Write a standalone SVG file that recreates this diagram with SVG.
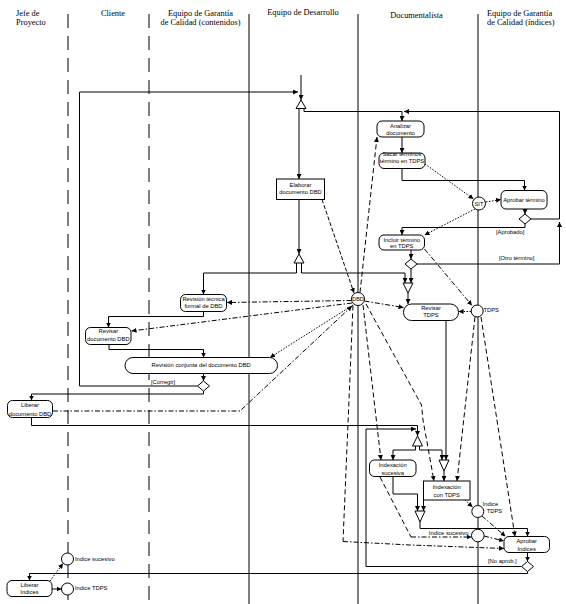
<svg xmlns="http://www.w3.org/2000/svg" width="566" height="604" viewBox="0 0 566 604">
<style>
.bg{fill:#fff}
.lane{stroke:#000;stroke-width:1;fill:none}
.ld{stroke-dasharray:14 8}
.f{fill:none;stroke:#000;stroke-width:1}
.a{marker-end:url(#ah)}
.dsh{stroke-dasharray:5 3}
.dsf{stroke-dasharray:4 2}
.dot{stroke-dasharray:1.5 1.5}
.dd{stroke-dasharray:5 2 1.5 2}
.n{fill:#fff;stroke:#000;stroke-width:1}
.h{font-family:"Liberation Serif","Times New Roman",serif;font-size:8.4px;fill:#000}
.t{font-family:"Liberation Sans",Arial,sans-serif;font-size:5.8px;fill:#000;text-anchor:middle}
.l{font-family:"Liberation Sans",Arial,sans-serif;font-size:5.8px;fill:#000}
</style>
<defs>
<marker id="ah" viewBox="0 0 5 5" refX="5" refY="2.5" markerWidth="5" markerHeight="5" markerUnits="userSpaceOnUse" orient="auto"><path d="M0,0 L5,2.5 L0,5 z" fill="#000" stroke="none"/></marker>
</defs>
<rect class="bg" x="0" y="0" width="566" height="604"/>

<g id="lanes">
<line class="lane ld" x1="68" y1="14" x2="68" y2="604"/>
<line class="lane ld" x1="149" y1="14" x2="149" y2="604"/>
<line class="lane" x1="249" y1="14" x2="249" y2="604"/>
<line class="lane" x1="358" y1="14" x2="358" y2="604"/>
<line class="lane" x1="478" y1="14" x2="478" y2="604"/>
<text class="h" x="16" y="16">Jefe de</text>
<text class="h" x="16" y="25">Proyecto</text>
<text class="h" x="113" y="16" text-anchor="middle">Cliente</text>
<text class="h" x="200.5" y="15.5" text-anchor="middle">Equipo de Garantía</text>
<text class="h" x="200.5" y="25" text-anchor="middle">de Calidad (contenidos)</text>
<text class="h" x="303" y="15" text-anchor="middle">Equipo de Desarrollo</text>
<text class="h" x="416.5" y="18" text-anchor="middle">Documentalista</text>
<text class="h" x="487" y="15.5">Equipo de Garantía</text>
<text class="h" x="487" y="25">de Calidad (índices)</text>
</g>

<g id="connectors">
<!-- control flows -->
<path class="f a" d="M301,75 V100"/>
<path class="f a" d="M197.5,386 H79.5 V92 H298"/>
<path class="f a" d="M299,108.5 V179"/>
<path class="f" d="M304,108.5 V111.5 H402"/>
<path class="f a" d="M402,111.5 V121"/>
<path class="f a" d="M417,264 H559.5 V222"/>
<path class="f a" d="M531,219 H559.5 V111.5 H404"/>
<path class="f a" d="M402,137 V153"/>
<path class="f a" d="M402,168.5 V180.5 H524.5 V190.5"/>
<path class="f a" d="M525,209 V214"/>
<path class="f a" d="M525,224 V227.5 H402 V235"/>
<path class="f a" d="M411,250 V259"/>
<path class="f a" d="M411,269 V283"/>
<path class="f a" d="M299,199.5 V254"/>
<path class="f a" d="M296.5,263 V273 H203.5 V294.5"/>
<path class="f a" d="M301.5,263 V273 H405 V283"/>
<path class="f a" d="M408,293 V304"/>
<path class="f a" d="M203.5,311.5 V316.5 H108.5 V327.5"/>
<path class="f a" d="M109,344.5 V349.5 H203.5 V357.5"/>
<path class="f a" d="M203.5,373.5 V381"/>
<path class="f a" d="M203.5,391 V394 H31.5 V400.5"/>
<path class="f a" d="M31.5,417.5 V425.5 H417.5 V436"/>
<path class="f a" d="M521.5,566.5 H366 V429 H416"/>
<path class="f a" d="M415.5,446 V450 H393 V460"/>
<path class="f a" d="M419.5,446 V450 H442 V460"/>
<path class="f a" d="M446,320.5 V460"/>
<path class="f a" d="M444,471 V481"/>
<path class="f a" d="M393,476.5 V494 H417.5 V511"/>
<path class="f a" d="M423.5,500 V511"/>
<path class="f a" d="M420,522 V528.5 H527.5 V536.5"/>
<path class="f a" d="M527.5,552.5 V561.5"/>
<path class="f a" d="M527.5,571.5 V573.5 H29.5 V580.5"/>
<path class="f a" d="M51.5,589 H61.5"/>
<!-- object flows -->
<path class="f a dsf" d="M322,199.5 L354,293"/>
<path class="f a dsh" d="M360,292.5 L377,137"/>
<path class="f a dot" d="M425,164 L473.5,199"/>
<path class="f a dot" d="M486,202 L501,199.5"/>
<path class="f a dot" d="M475,209 L424.5,235"/>
<path class="f a dd" d="M424.5,249 L472,305.5"/>
<path class="f a dd" d="M364.5,301 L403.5,307.5"/>
<path class="f a dot" d="M471,311.5 L458.5,311.5"/>
<path class="f a dd" d="M351.5,300.5 L227,302.5"/>
<path class="f a dd" d="M352,303 L131.5,331"/>
<path class="f a dot" d="M353,305 L270,357.5"/>
<path class="f a dd" d="M53,411 H240 L352,306"/>
<path class="f dsh" d="M353,305.5 L343,541.5"/>
<path class="f a dd" d="M343,541.5 L410,545 L504,548.5"/>
<path class="f a dsh" d="M363,305 L381,460"/>
<path class="f a dsh" d="M366,304 L421.5,405 L423,420 L434,481"/>
<path class="f a dsh" d="M475,317 L457,481"/>
<path class="f a dsh" d="M481,317 L515,536.5"/>
<path class="f a dot" d="M465,500 L472.5,507"/>
<path class="f dsh" d="M380,477 L411,537"/>
<path class="f a dd" d="M411,537 H471.5"/>
<path class="f a dd" d="M482,516 L505.5,536.5"/>
<path class="f a dd" d="M484,536 L504,541"/>
<path class="f a dot" d="M50,581 L63,563.5"/>
</g>

<g id="fork1"><polygon class="n" points="301,100 296,108.5 306,108.5"/></g>
<g id="fork2"><polygon class="n" points="299,254 294,263 304,263"/></g>
<g id="join1"><polygon class="n" points="403,283 413,283 408,293"/></g>
<g id="fork3"><polygon class="n" points="417.5,436 412.5,446 422.5,446"/></g>
<g id="join2"><polygon class="n" points="439,460 449,460 444,471"/></g>
<g id="join3"><polygon class="n" points="415,511 425,511 420,522"/></g>

<g id="d-aprobado"><polygon class="n" points="525,214 531,219 525,224 519,219"/><text class="l" x="496" y="233.5">[Aprobado]</text></g>
<g id="d-otro"><polygon class="n" points="411,259 417,264 411,269 405,264"/><text class="l" x="499" y="260">[Otro término]</text></g>
<g id="d-corregir"><polygon class="n" points="203.5,381 209.5,386 203.5,391 197.5,386"/><text class="l" x="151" y="383.5">[Corregir]</text></g>
<g id="d-noaprob"><polygon class="n" points="527.5,561.5 533.5,566.5 527.5,571.5 521.5,566.5"/><text class="l" x="488" y="563">[No aprob.]</text></g>

<g id="analizar"><rect class="n" x="377" y="121" width="47" height="16" rx="5"/><text class="t" x="400.5" y="128">Analizar</text><text class="t" x="400.5" y="134.5">documento</text></g>
<g id="sacar"><rect class="n" x="379" y="153" width="46" height="15.5" rx="5"/><text class="t" x="402" y="155.5">Sacar términos</text><text class="t" x="402" y="163">término en TDPS</text></g>
<g id="aprobar-termino"><rect class="n" x="501" y="190.5" width="46" height="18.5" rx="5"/><text class="t" x="524" y="202">Aprobar término</text></g>
<g id="incluir"><rect class="n" x="379" y="235" width="45.5" height="15" rx="5"/><text class="t" x="401.7" y="241.5">Incluir término</text><text class="t" x="401.7" y="248">en TDPS</text></g>
<g id="elaborar"><rect class="n" x="276.5" y="179" width="48" height="20.5"/><text class="t" x="300.5" y="186.5">Elaborar</text><text class="t" x="300.5" y="194">documento DBD</text></g>
<g id="revisar-tdps"><rect class="n" x="403.5" y="304" width="55" height="16.5" rx="8"/><text class="t" x="431" y="309.5">Revisar</text><text class="t" x="431" y="317">TDPS</text></g>
<g id="revision-tecnica"><rect class="n" x="180.5" y="294.5" width="46" height="17" rx="5"/><text class="t" x="203.5" y="300.5">Revisión técnica</text><text class="t" x="203.5" y="308">formal de DBD</text></g>
<g id="revisar-doc"><rect class="n" x="85.5" y="327.5" width="45.5" height="17" rx="5"/><text class="t" x="108.3" y="332.5">Revisar</text><text class="t" x="108.3" y="341">documento DBD</text></g>
<g id="revision-conjunta"><rect class="n" x="125" y="357.5" width="152.5" height="16" rx="8"/><text class="t" x="201.2" y="366.5">Revisión conjunta del documento DBD</text></g>
<g id="liberar-doc"><rect class="n" x="7.5" y="400.5" width="45" height="17" rx="5"/><text class="t" x="30" y="406.5">Liberar</text><text class="t" x="30" y="415.5">documento DBD</text></g>
<g id="index-sucesiva"><rect class="n" x="369.5" y="460" width="46.5" height="16.5" rx="5"/><text class="t" x="392.7" y="466.5">Indexación</text><text class="t" x="392.7" y="475">sucesiva</text></g>
<g id="index-tdps"><rect class="n" x="423.5" y="481" width="46.5" height="19"/><text class="t" x="446.7" y="488.5">Indexación</text><text class="t" x="446.7" y="497">con TDPS</text></g>
<g id="aprobar-indices"><rect class="n" x="504" y="536.5" width="45.5" height="16" rx="5"/><text class="t" x="526.7" y="543">Aprobar</text><text class="t" x="526.7" y="550.5">Indices</text></g>
<g id="liberar-indices"><rect class="n" x="7" y="580.5" width="45" height="16" rx="5"/><text class="t" x="29.5" y="586.5">Liberar</text><text class="t" x="29.5" y="594">Indices</text></g>

<g id="obj-dbd"><circle class="n" cx="358" cy="299" r="6.5"/><text class="t" x="358" y="301" style="font-size:5.5px">DBD</text></g>
<g id="obj-sit"><circle class="n" cx="479" cy="203.5" r="6.5"/><text class="t" x="479" y="205.5">SIT</text></g>
<g id="obj-tdps"><circle class="n" cx="477.2" cy="311" r="6"/><text class="l" x="483.5" y="311.5">TDPS</text></g>
<g id="obj-indice-tdps"><circle class="n" cx="477.8" cy="511.5" r="6"/><text class="l" x="482.7" y="506">Indice</text><text class="l" x="486.7" y="512.5">TDPS</text></g>
<g id="obj-indice-sucesivo"><circle class="n" cx="477.8" cy="535.5" r="6.3"/><text class="l" x="468.5" y="534.5" text-anchor="end">Indice sucesivo</text></g>
<g id="obj-indice-sucesivo-2"><circle class="n" cx="67.5" cy="559" r="6"/><text class="l" x="75" y="561">Indice sucesivo</text></g>
<g id="obj-indice-tdps-2"><circle class="n" cx="67.5" cy="589" r="6"/><text class="l" x="75" y="589.5">Indice TDPS</text></g>
</svg>
